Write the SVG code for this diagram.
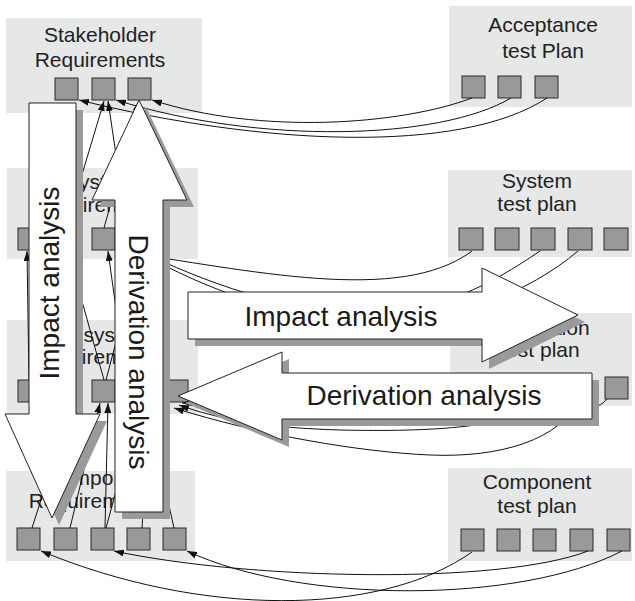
<svg xmlns="http://www.w3.org/2000/svg" width="635" height="601" viewBox="0 0 635 601">
<style>
.box{fill:#e6e7e7}
.sq{fill:#999;stroke:#2a2a2a;stroke-width:1}
.lbl{font-family:"Liberation Sans",Arial,sans-serif;font-size:21px;fill:#222;text-anchor:middle}
.big{font-family:"Liberation Sans",Arial,sans-serif;font-size:28px;fill:#1a1a1a;text-anchor:middle}
.conn{fill:none;stroke:#111;stroke-width:1}
.ar{marker-end:url(#ah)}
.arr{fill:#fff;stroke:#222;stroke-width:1}
.shd{fill:#9a9a9a;stroke:none}
</style>
<defs>
<marker id="ah" markerWidth="10" markerHeight="7" refX="10" refY="3.5" orient="auto" markerUnits="userSpaceOnUse"><path d="M0,0 L10,3.5 L0,7 z" fill="#111"/></marker>
<polygon id="pIAV" points="29,103 76,103 76,414 100,414 52,518 5,414 29,414"/>
<polygon id="pDAV" points="139,100 187,200 163,200 163,512 115,512 115,200 92,200"/>
<polygon id="pIAH" points="188,292 482,292 482,268 578,315 482,362 482,339 188,339"/>
<polygon id="pDAH" points="178,396 282,352 282,373 592,373 592,419 282,419 282,440"/>
</defs>

<g id="stakeholder-requirements">
<rect class="box" x="6" y="18" width="196" height="95"/>
<text class="lbl" x="100" y="42">Stakeholder</text>
<text class="lbl" x="100" y="67">Requirements</text>
<rect class="sq" x="55" y="78" width="23" height="22"/>
<rect class="sq" x="92" y="78" width="23" height="22"/>
<rect class="sq" x="128" y="78" width="23" height="22"/>
</g>
<g id="system-requirements">
<rect class="box" x="7" y="168" width="191" height="91"/>
<text class="lbl" x="100" y="189">System</text>
<text class="lbl" x="98" y="212">Requirements</text>
<rect class="sq" x="18" y="228" width="23" height="22"/>
<rect class="sq" x="55" y="228" width="23" height="22"/>
<rect class="sq" x="92" y="228" width="23" height="22"/>
<rect class="sq" x="128" y="228" width="23" height="22"/>
</g>
<g id="subsystem-requirements">
<rect class="box" x="7" y="320" width="191" height="94"/>
<text class="lbl" x="98" y="342">Subsystem</text>
<text class="lbl" x="97" y="364">Requirements</text>
<rect class="sq" x="18" y="380" width="23" height="22"/>
<rect class="sq" x="55" y="380" width="23" height="22"/>
<rect class="sq" x="92" y="380" width="23" height="22"/>
<rect class="sq" x="128" y="380" width="23" height="22"/>
<rect class="sq" x="165" y="380" width="23" height="22"/>
</g>
<g id="component-requirements">
<rect class="box" x="6" y="471" width="189" height="90"/>
<text class="lbl" x="100" y="485">Component</text>
<text class="lbl" x="94" y="508">Requirements</text>
<rect class="sq" x="17" y="528" width="23" height="22"/>
<rect class="sq" x="54" y="528" width="23" height="22"/>
<rect class="sq" x="91" y="528" width="23" height="22"/>
<rect class="sq" x="127" y="528" width="23" height="22"/>
<rect class="sq" x="163" y="528" width="23" height="22"/>
</g>
<g id="acceptance-test-plan">
<rect class="box" x="449" y="6" width="183" height="101"/>
<text class="lbl" x="543" y="32">Acceptance</text>
<text class="lbl" x="543" y="58">test Plan</text>
<rect class="sq" x="462" y="76" width="23" height="22"/>
<rect class="sq" x="498" y="76" width="23" height="22"/>
<rect class="sq" x="535" y="76" width="23" height="22"/>
</g>
<g id="system-test-plan">
<rect class="box" x="448" y="170" width="184" height="87"/>
<text class="lbl" x="537" y="188">System</text>
<text class="lbl" x="537" y="211">test plan</text>
<rect class="sq" x="459" y="228" width="24" height="22"/>
<rect class="sq" x="495" y="228" width="24" height="22"/>
<rect class="sq" x="531" y="228" width="24" height="22"/>
<rect class="sq" x="568" y="228" width="24" height="22"/>
<rect class="sq" x="604" y="228" width="24" height="22"/>
</g>
<g id="integration-test-plan">
<rect class="box" x="450" y="313" width="182" height="93"/>
<text class="lbl" x="540" y="335">Integration</text>
<text class="lbl" x="540" y="357">test plan</text>
<rect class="sq" x="460" y="377" width="23" height="22"/>
<rect class="sq" x="496" y="377" width="23" height="22"/>
<rect class="sq" x="532" y="377" width="23" height="22"/>
<rect class="sq" x="568" y="377" width="23" height="22"/>
<rect class="sq" x="605" y="377" width="23" height="22"/>
</g>
<g id="component-test-plan">
<rect class="box" x="448" y="468" width="184" height="93"/>
<text class="lbl" x="537" y="489">Component</text>
<text class="lbl" x="537" y="513">test plan</text>
<rect class="sq" x="461" y="529" width="23" height="22"/>
<rect class="sq" x="497" y="529" width="23" height="22"/>
<rect class="sq" x="533" y="529" width="23" height="22"/>
<rect class="sq" x="570" y="529" width="23" height="22"/>
<rect class="sq" x="607" y="529" width="23" height="22"/>
</g>

<g id="connectors" class="conn">
<path class="ar" d="M472,98 C400,125 260,135 152,100"/>
<path class="ar" d="M511,98 C440,140 260,145 116,100"/>
<path class="ar" d="M547,98 C460,155 260,145 79,100"/>
<path class="ar" d="M472,251 C400,305 250,270 116,251"/>
<path class="ar" d="M540,251 C490,285 440,312 370,312 C290,315 200,280 140,251"/>
<path class="ar" d="M578,251 C530,292 450,325 370,322 C290,320 205,290 140,252"/>
<path class="ar" d="M544,399 C520,428 430,432 340,430 C270,428 220,420 179,405"/>
<path class="ar" d="M580,399 C560,440 500,458 430,455 C360,452 260,435 174,408"/>
<path class="ar" d="M607,399 C598,410 580,413 540,411 C420,406 300,402 182,403"/>
<path class="ar" d="M472,552 C380,617 200,617 41,551"/>
<path class="ar" d="M588,551 C500,585 250,580 114,551"/>
<path class="ar" d="M622,551 C520,604 300,604 187,551"/>
<path class="ar" d="M66,228 L104,101"/>
<path class="ar" d="M127,228 L108,101"/>
<path class="ar" d="M104,228 L139,101"/>
<path class="ar" d="M126,380 L108,251"/>
<path class="ar" d="M104,380 L68,251"/>
<path class="ar" d="M106,380 L140,251"/>
<path class="ar" d="M29,380 L27,251"/>
<path class="ar" d="M70,528 L100,403"/>
<path class="ar" d="M105,528 L108,403"/>
<path class="ar" d="M106,528 L140,403"/>
<path class="ar" d="M32,528 L72,403"/>
<path class="ar" d="M142,528 L150,403"/>
<path class="ar" d="M174,528 L146,403"/>
</g>

<g id="derivation-analysis-left">
<use href="#pDAH" class="shd" transform="translate(7,7)"/>
<use href="#pDAH" class="arr"/>
<text class="big" x="424" y="405">Derivation analysis</text>
</g>
<g id="impact-analysis-right">
<use href="#pIAH" class="shd" transform="translate(7,7)"/>
<use href="#pIAH" class="arr"/>
<text class="big" x="341" y="326">Impact analysis</text>
</g>
<g id="impact-analysis-down">
<use href="#pIAV" class="shd" transform="translate(7,7)"/>
<use href="#pIAV" class="arr"/>
<text class="big" transform="translate(52,283) rotate(-90)" x="0" y="7">Impact analysis</text>
</g>
<g id="derivation-analysis-up">
<use href="#pDAV" class="shd" transform="translate(7,7)"/>
<use href="#pDAV" class="arr"/>
<text class="big" transform="translate(139,352) rotate(90)" x="0" y="10">Derivation analysis</text>
</g>
</svg>
